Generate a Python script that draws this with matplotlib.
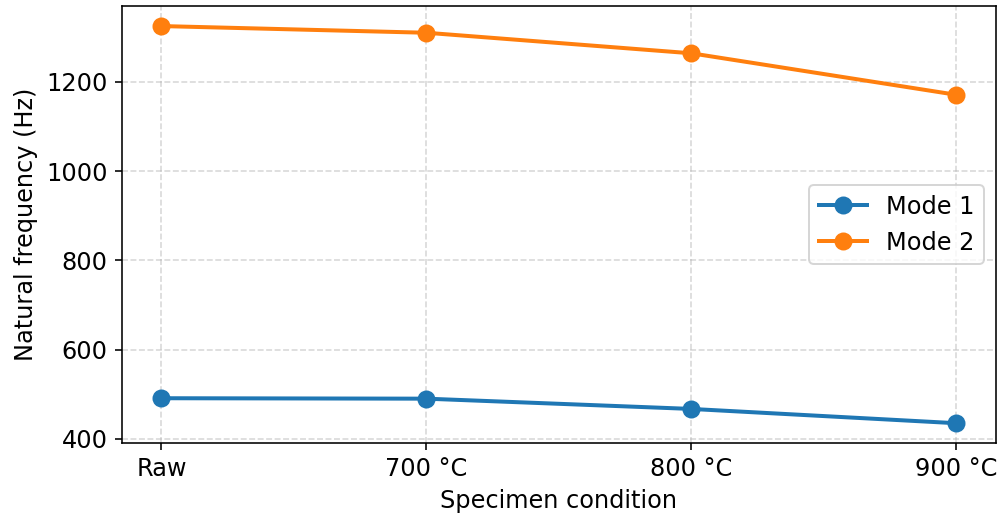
import matplotlib
matplotlib.use('Agg')
import matplotlib.pyplot as plt

# 数据
conditions = ['Raw', '700 °C', '800 °C', '900 °C']
mode1_freq = [491, 490, 467, 435]
mode2_freq = [1325, 1310, 1264, 1171]

plt.rcParams['font.family'] = ['DejaVu Sans']

fig = plt.figure(figsize=(1006 / 144, 517 / 144), dpi=144)
ax = fig.add_axes([0.121, 0.143, 0.869, 0.845])

x = list(range(len(conditions)))
ax.plot(x, mode1_freq, marker='o', linewidth=2, markersize=8, color='#1f77b4', label='Mode 1')
ax.plot(x, mode2_freq, marker='o', linewidth=2, markersize=8, color='#ff7f0e', label='Mode 2')

ax.set_xticks(x)
ax.set_xticklabels(conditions, fontsize=12)
ax.tick_params(axis='y', labelsize=12)
ax.set_xlabel('Specimen condition', fontsize=12)
ax.set_ylabel('Natural frequency (Hz)', fontsize=12)

ax.grid(True, linestyle='--', alpha=0.5)
ax.legend(loc='center right', fontsize=12)

fig.savefig('out.png', dpi=144)
plt.close(fig)
